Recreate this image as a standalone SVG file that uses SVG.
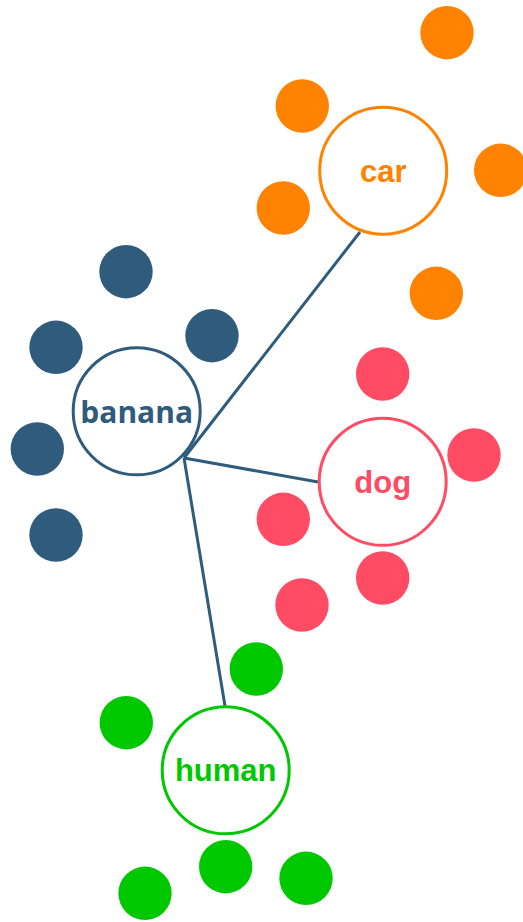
<svg xmlns="http://www.w3.org/2000/svg" width="523" height="922" viewBox="0 0 523 922">
<style>
.hub{fill:#fff;stroke-width:3}
.lbl{font-family:"Liberation Sans",Arial,sans-serif;font-weight:bold;font-size:31px;text-anchor:middle}
.edge{stroke:#2f5b7c;stroke-width:3;fill:none}
.b{fill:#2f5b7c}.o{fill:#ff8300}.p{fill:#ff4b63}.g{fill:#00c800}
</style>
<rect width="523" height="922" fill="#fff"/>
<g id="connectors">
<line class="edge" x1="184" y1="458" x2="360" y2="232"/>
<line class="edge" x1="184" y1="458" x2="318" y2="482"/>
<line class="edge" x1="184" y1="458" x2="225" y2="706"/>
</g>
<g id="banana">
<circle class="b" cx="126" cy="271.7" r="26.7"/>
<circle class="b" cx="56" cy="347.3" r="26.7"/>
<circle class="b" cx="212" cy="335.7" r="26.7"/>
<circle class="b" cx="37.3" cy="449" r="26.7"/>
<circle class="b" cx="56" cy="535" r="26.7"/>
<circle class="hub" cx="136.7" cy="411.3" r="63.5" stroke="#2f5b7c"/>
<text class="lbl" x="136.7" y="422.7" fill="#2f5b7c" style="font-family:'Open Sans','Liberation Sans',sans-serif;font-size:30px">banana</text>
</g>
<g id="car">
<circle class="o" cx="447" cy="32.7" r="26.7"/>
<circle class="o" cx="302.3" cy="106" r="26.7"/>
<circle class="o" cx="500.7" cy="170.3" r="26.7"/>
<circle class="o" cx="283.3" cy="208" r="26.7"/>
<circle class="o" cx="436.3" cy="293.3" r="26.7"/>
<circle class="hub" cx="383.2" cy="170.7" r="63.5" stroke="#ff8300"/>
<text class="lbl" x="383.2" y="181.7" fill="#ff8300">car</text>
</g>
<g id="dog">
<circle class="p" cx="382.7" cy="374" r="26.7"/>
<circle class="p" cx="474" cy="455" r="26.7"/>
<circle class="p" cx="283.3" cy="519.3" r="26.7"/>
<circle class="p" cx="382.7" cy="578" r="26.7"/>
<circle class="p" cx="302" cy="605" r="26.7"/>
<circle class="hub" cx="382.7" cy="481.8" r="63.5" stroke="#ff4b63"/>
<text class="lbl" x="382.7" y="492.7" fill="#ff4b63">dog</text>
</g>
<g id="human">
<circle class="g" cx="256.3" cy="669" r="26.7"/>
<circle class="g" cx="126.3" cy="722.7" r="26.7"/>
<circle class="g" cx="225.7" cy="866.7" r="26.7"/>
<circle class="g" cx="145" cy="893.3" r="26.7"/>
<circle class="g" cx="306" cy="878.3" r="26.7"/>
<circle class="hub" cx="225.7" cy="770.3" r="63.5" stroke="#00c800"/>
<text class="lbl" x="225.7" y="780.7" fill="#00c800">human</text>
</g>
</svg>
